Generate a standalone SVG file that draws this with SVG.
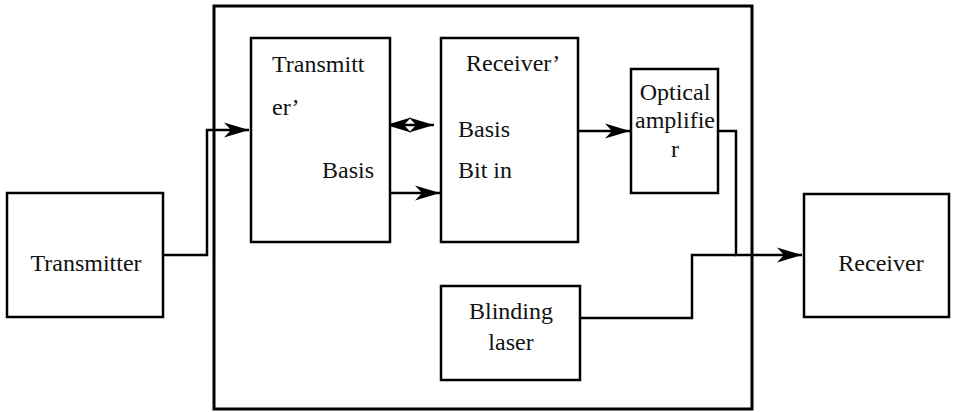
<svg xmlns="http://www.w3.org/2000/svg" width="956" height="412" viewBox="0 0 956 412">
<style>
.box{fill:#fff;stroke:#000;stroke-width:2.5}
.outer{fill:none;stroke:#000;stroke-width:3}
text{font-family:'Liberation Serif','DejaVu Serif',serif;font-size:24px;fill:#111}
.c{text-anchor:middle}
.w{fill:none;stroke:#000;stroke-width:2.5}
</style>
<defs>
<marker id="ah" markerUnits="userSpaceOnUse" markerWidth="30" markerHeight="20" viewBox="-26 -10 30 20" refX="0" refY="0" orient="auto">
<path d="M0,0 L-25,-7.5 L-18,0 L-25,7.5 Z" fill="#000"/>
</marker>
<marker id="ahs" markerUnits="userSpaceOnUse" markerWidth="30" markerHeight="20" viewBox="-4 -10 30 20" refX="0" refY="0" orient="auto">
<path d="M0,0 L25,-7.5 L18,0 L25,7.5 Z" fill="#000"/>
</marker>
</defs>
<rect id="outer" class="outer" x="214" y="6" width="538" height="403"/>
<g id="connectors">
<polyline class="w" points="163,255 207,255 207,130 249,130" marker-end="url(#ah)"/>
<line class="w" x1="386" y1="125" x2="434" y2="125" marker-start="url(#ahs)" marker-end="url(#ah)"/>
<line class="w" x1="390" y1="193" x2="440" y2="193" marker-end="url(#ah)"/>
<line class="w" x1="578" y1="131" x2="630" y2="131" marker-end="url(#ah)"/>
<polyline class="w" points="718,131 736,131 736,255 802,255" marker-end="url(#ah)"/>
<polyline class="w" points="580,318 692,318 692,255 736,255"/>
</g>
<g font-family="Liberation Serif, serif">
<g id="transmitter">
<rect class="box" x="7" y="193" width="156" height="124"/>
<text class="c" x="86" y="271">Transmitter</text>
</g>
<g id="transmitter-prime">
<rect class="box" x="251" y="38" width="139" height="204"/>
<text x="272" y="72">Transmitt</text>
<text x="272" y="115">er’</text>
<text x="322" y="178">Basis</text>
</g>
<g id="receiver-prime">
<rect class="box" x="441" y="38" width="137" height="204"/>
<text x="466" y="71">Receiver’</text>
<text x="458" y="137">Basis</text>
<text x="458" y="178">Bit in</text>
</g>
<g id="optical-amplifier">
<rect class="box" x="631" y="69" width="87" height="124"/>
<text class="c" x="675" y="100">Optical</text>
<text class="c" x="675" y="128">amplifie</text>
<text class="c" x="675" y="157">r</text>
</g>
<g id="blinding-laser">
<rect class="box" x="441" y="286" width="139" height="94"/>
<text class="c" x="511" y="319">Blinding</text>
<text class="c" x="511" y="350">laser</text>
</g>
<g id="receiver">
<rect class="box" x="804" y="194" width="145" height="123"/>
<text class="c" x="881" y="271">Receiver</text>
</g>
</g>
</svg>
